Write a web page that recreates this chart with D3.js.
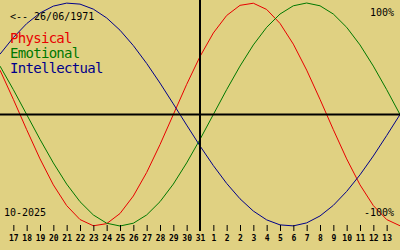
<!DOCTYPE html>
<html>
<head>
<meta charset="utf-8">
<script src="https://cdn.jsdelivr.net/npm/d3@7"></script>
<style>
    body { margin: 0; background: #e0d182; }
    svg { display: block; }
    text { font-family: "DejaVu Sans Mono", monospace; }
</style>
</head>
<body>
<div class="chart"></div>
<script>
// Data: day offsets around today, biorhythm values (-1..1).
const dayOffsets = [-15, -14, -13, -12, -11, -10, -9, -8, -7, -6, -5, -4, -3, -2, -1, 0,
    1, 2, 3, 4, 5, 6, 7, 8, 9, 10, 11, 12, 13, 14, 15];

const physical = [0.398, 0.136, -0.136, -0.398, -0.631, -0.817, -0.942, -0.998, -0.979, -0.888,
    -0.731, -0.520, -0.270, 0, 0.270, 0.520, 0.731, 0.888, 0.979, 0.998, 0.942, 0.817, 0.631,
    0.398, 0.136, -0.136, -0.398, -0.631, -0.817, -0.942, -0.998];

const emotional = [0.434, 0.223, 0, -0.223, -0.434, -0.624, -0.782, -0.901, -0.975, -1,
    -0.975, -0.901, -0.782, -0.624, -0.434, -0.223, 0, 0.223, 0.434, 0.624, 0.782, 0.901,
    0.975, 1, 0.975, 0.901, 0.782, 0.624, 0.434, 0.223, 0];

const intellectual = [0.541, 0.690, 0.815, 0.910, 0.972, 0.999, 0.990, 0.945, 0.866, 0.756,
    0.618, 0.458, 0.282, 0.095, -0.095, -0.282, -0.458, -0.618, -0.756, -0.866, -0.945, -0.990,
    -0.999, -0.972, -0.910, -0.815, -0.690, -0.541, -0.372, -0.189, 0];

const tickDays = [-14, -13, -12, -11, -10, -9, -8, -7, -6, -5, -4, -3, -2, -1, 0,
    1, 2, 3, 4, 5, 6, 7, 8, 9, 10, 11, 12, 13, 14];
const tickLabels = ['17', '18', '19', '20', '21', '22', '23', '24', '25', '26', '27', '28', '29', '30', '31',
    '1', '2', '2', '3', '4', '5', '6', '7', '8', '9', '10', '11', '12', '13'];

const seriesNames = ['Physical', 'Emotional', 'Intellectual'];
const seriesColors = ['#e80000', '#007800', '#00008a'];

const birthLabel = '<-- 26/06/1971';
const monthLabel = '10-2025';

const width = 400;
const height = 250;

const svg = d3
    .select('.chart')
    .append('svg')
    .attr('width', width)
    .attr('height', height);

function ready() {
    const xScale = d3.scaleLinear()
        .domain([-15, 15])
        .range([0, width]);

    const yScale = d3.scaleLinear()
        .domain([-1, 1])
        .range([226, 3]);

    drawBackground();
    drawCurves(xScale, yScale);
    drawAxes(xScale, yScale);
    drawTexts();
}

function drawBackground() {
    svg.append('rect')
        .attr('width', width)
        .attr('height', height)
        .style('fill', '#e0d182');
}

function drawCurves(xScale, yScale) {
    const lineGenerator = d3.line()
        .x((d, i) => xScale(dayOffsets[i]))
        .y(d => yScale(d));

    [physical, emotional, intellectual].forEach((values, i) => {
        svg.append('path')
            .datum(values)
            .attr('d', lineGenerator)
            .style('fill', 'none')
            .style('stroke', seriesColors[i])
            .style('stroke-width', 1);
    });
}

function drawAxes(xScale, yScale) {
    // horizontal zero line
    svg.append('line')
        .attr('x1', 0)
        .attr('x2', width)
        .attr('y1', yScale(0))
        .attr('y2', yScale(0))
        .style('stroke', '#000')
        .style('stroke-width', 2);

    // today line
    svg.append('line')
        .attr('x1', xScale(0))
        .attr('x2', xScale(0))
        .attr('y1', 0)
        .attr('y2', 231)
        .style('stroke', '#000')
        .style('stroke-width', 2);

    const axisX = d3.axisBottom(xScale)
        .tickValues(tickDays)
        .tickFormat((d, i) => tickLabels[i])
        .tickSize(6)
        .tickPadding(4);

    const g = svg.append('g')
        .attr('transform', 'translate(0, 225)')
        .call(axisX);

    g.select('.domain').remove();
    g.selectAll('line').style('stroke', '#000');
    g.selectAll('text')
        .style('font-family', '"DejaVu Sans Mono", monospace')
        .style('font-size', '8px')
        .style('font-weight', 'bold')
        .style('fill', '#000');
}

function drawTexts() {
    svg.append('text')
        .attr('x', 10)
        .attr('y', 20)
        .style('font-size', '10px')
        .text(birthLabel);

    svg.append('text')
        .attr('x', 394)
        .attr('y', 16)
        .attr('text-anchor', 'end')
        .style('font-size', '10px')
        .text('100%');

    svg.append('text')
        .attr('x', 394)
        .attr('y', 216)
        .attr('text-anchor', 'end')
        .style('font-size', '10px')
        .text('-100%');

    svg.append('text')
        .attr('x', 4)
        .attr('y', 216)
        .style('font-size', '10px')
        .text(monthLabel);

    seriesNames.forEach((name, i) => {
        svg.append('text')
            .attr('x', 10)
            .attr('y', 43 + i * 15)
            .style('font-size', '14px')
            .style('letter-spacing', '-0.7px')
            .style('fill', seriesColors[i])
            .text(name);
    });
}

ready();
</script>
</body>
</html>
